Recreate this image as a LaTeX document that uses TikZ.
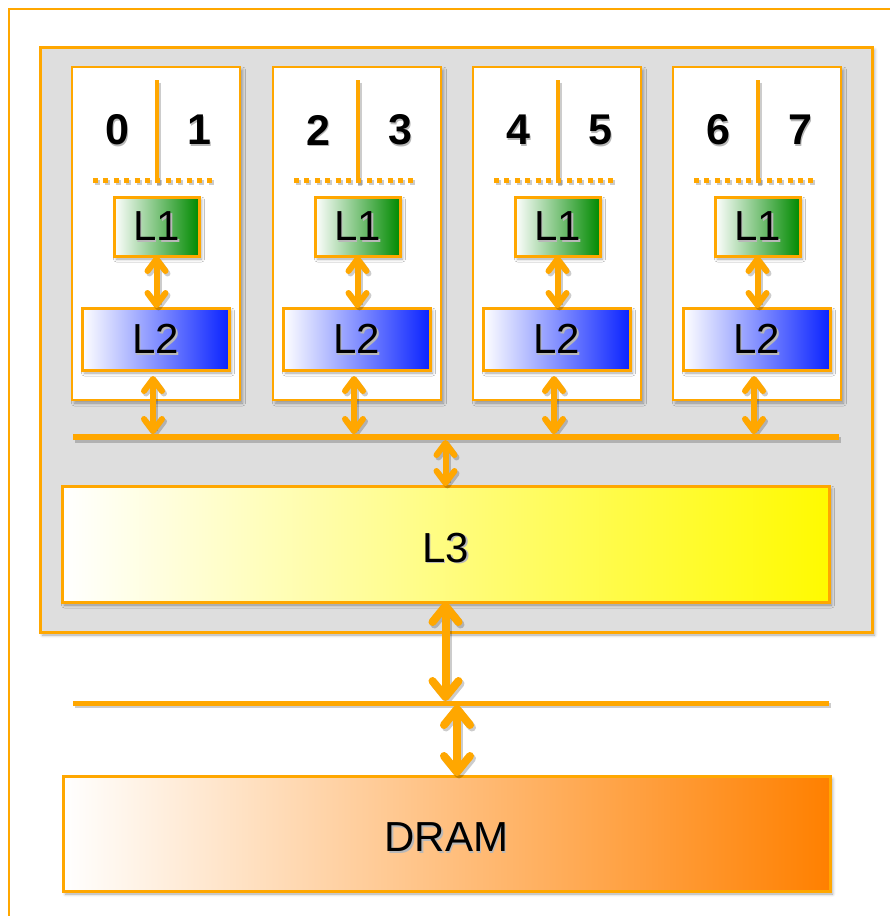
\documentclass[tikz,border=0pt]{standalone}
\usepackage{fontspec}
\setmainfont{Liberation Sans}
\usetikzlibrary{arrows.meta,calc,shadows.blur}

\definecolor{orb}{RGB}{255,167,0}
\definecolor{panel}{RGB}{222,222,222}
\definecolor{lgreen}{RGB}{0,138,0}
\definecolor{lblue}{RGB}{10,35,255}
\definecolor{lyellow}{RGB}{255,250,0}
\definecolor{lorange}{RGB}{255,128,0}

% label with a soft offset shadow behind it
\newcommand\shadowed[1]{\rlap{\smash{\kern1.6pt\raisebox{-1.6pt}{\textcolor{black!28}{#1}}}}#1}

\tikzset{
  softshadow/.style={blur shadow={shadow xshift=2.5pt, shadow yshift=-3pt,
      shadow blur radius=3pt, shadow opacity=35}},
  box/.style={draw=orb, line width=3pt, inner sep=0pt, outer sep=0pt,
      anchor=north west, softshadow},
  cache/.style={box, left color=white, font=\fontsize{42}{42}\selectfont},
  digit/.style={font=\fontsize{43}{43}\selectfont\bfseries, inner sep=0pt},
  ink/.style={draw=orb},
  link/.style={line width=6pt,
      arrows={Straight Barb[length=12pt,width=18pt,round]-Straight Barb[length=12pt,width=18pt,round]}},
  biglink/.style={line width=8pt,
      arrows={Straight Barb[length=16pt,width=26pt,round]-Straight Barb[length=16pt,width=26pt,round]}},
}

% every line and connector; drawn once as shadow, once in orange
\newcommand\wiring{%
  \foreach \i/\x in {0/72,1/273,2/473,3/673}{
    \draw[ink, line width=4.5pt] (\x+85,80) -- (\x+85,183);
    \draw[ink, line width=5pt, dash pattern=on 5pt off 5.4pt] (\x+21,180) -- (\x+143,180);
    \draw[ink, link] (l1\i.south) -- (l1\i.south |- l2\i.north);
    \draw[ink, link] ($(l2\i.south -| tap\i)+(0,6)$) -- ($(tap\i)+(0,-3)$);
  }
  \draw[ink, line width=6pt] (busL) -- (busR);
  \draw[ink, link] ($(l3.north |- busL)+(0,3)$) -- (l3.north);
  \draw[ink, biglink] (l3.south) -- ($(l3.south |- memL)+(0,-2)$);
  \draw[ink, line width=5pt] (memL) -- (memR);
  \draw[ink, biglink] ($(dtap)+(0,2)$) -- (dtap |- dram.north);
}

\begin{document}
\begin{tikzpicture}[x=1pt,y=-1pt]
  \useasboundingbox (0,0) rectangle (890,916);
  \clip (0,0) rectangle (890,916);

  % outer frame
  \draw[orb, line width=2.5pt] (9,9) rectangle (930,940);

  % chip panel
  \node[box, fill=panel, minimum width=832pt, minimum height=585pt] (chip) at (40,47) {};

  % cores with their private caches
  \foreach \i/\x/\a/\b in {0/72/0/1,1/273/2/3,2/473/4/5,3/673/6/7}{
    \node[box, fill=white, line width=2.5pt, minimum width=168pt, minimum height=333pt]
      (core\i) at (\x,67) {};
    \node[digit] (ta\i) at (\x+45,130) {\shadowed{\a}};
    \node[digit] (tb\i) at (\x+127,130) {\shadowed{\b}};
    \node[cache, right color=lgreen, minimum width=85pt, minimum height=59pt]
      (l1\i) at (\x+42,197) {\shadowed{L1}};
    \node[cache, right color=lblue, minimum width=147pt, minimum height=62pt]
      (l2\i) at (\x+10,308) {\shadowed{L2}};
    \coordinate (tap\i) at (\x+81,437);
  }

  % shared cache and memory
  \node[cache, right color=lyellow, minimum width=767pt, minimum height=116pt,
        text height=36pt, text depth=0pt] (l3) at (62,486) {\shadowed{L3}};
  \node[cache, right color=lorange, minimum width=767pt, minimum height=115pt,
        text height=36pt, text depth=0pt] (dram) at (63,776) {\shadowed{DRAM}};

  \coordinate (busL) at (73,437);
  \coordinate (busR) at (839,437);
  \coordinate (memL) at (73,703);
  \coordinate (memR) at (829,703);
  \coordinate (dtap) at (457,703);

  \begin{scope}[transform canvas={xshift=2pt,yshift=-2.5pt}]
    \tikzset{ink/.style={draw=black, opacity=0.2}}
    \wiring
  \end{scope}
  \wiring
\end{tikzpicture}
\end{document}
